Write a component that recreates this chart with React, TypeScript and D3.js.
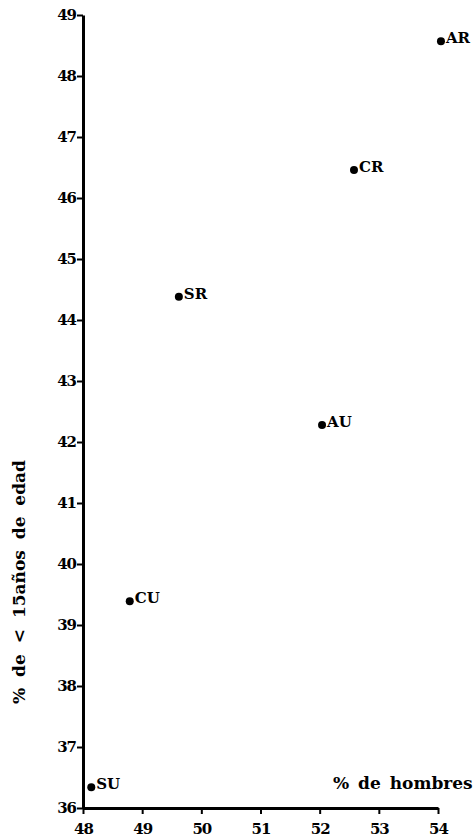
import React, { useEffect, useRef } from "react";
import * as d3 from "d3";

// % de hombres vs % de < 15 años de edad
const codes = ["AR", "CR", "SR", "AU", "CU", "SU"];
const hombres = [54.05, 52.58, 49.62, 52.04, 48.79, 48.14];
const menores = [48.57, 46.46, 44.38, 42.28, 39.39, 36.34];
const xTicks = [48, 49, 50, 51, 52, 53, 54];
const yTicks = [36, 37, 38, 39, 40, 41, 42, 43, 44, 45, 46, 47, 48, 49];

export default function App() {
  const ref = useRef<SVGSVGElement>(null);

  useEffect(() => {
    const svg = d3.select(ref.current);
    svg.selectAll("*").remove();

    const W = 473, H = 837;
    const x = d3.scaleLinear().domain([48, 54]).range([83, 438]);
    const y = d3.scaleLinear().domain([36, 49]).range([808, 15]);
    const font = "'DejaVu Serif', 'Liberation Serif', serif";

    svg.attr("width", W).attr("height", H);

    // y axis
    const gy = svg.append("g").attr("transform", `translate(${x(48)},0)`)
      .call(d3.axisLeft(y).tickValues(yTicks).tickSize(6).tickSizeOuter(0).tickFormat(d3.format("d")));
    gy.select(".domain").attr("stroke", "#000").attr("stroke-width", 3);
    gy.selectAll(".tick line").attr("stroke", "#000").attr("stroke-width", 2);
    gy.selectAll(".tick text")
      .attr("x", -7)
      .attr("font-family", font)
      .attr("font-weight", "bold")
      .attr("font-size", 15)
      .attr("letter-spacing", -1)
      .attr("fill", "#000");

    // x axis
    const gx = svg.append("g").attr("transform", `translate(0,${y(36)})`)
      .call(d3.axisBottom(x).tickValues(xTicks).tickSize(6).tickSizeOuter(0).tickFormat(d3.format("d")));
    gx.select(".domain").attr("stroke", "#000").attr("stroke-width", 3);
    gx.selectAll(".tick line").attr("stroke", "#000").attr("stroke-width", 2);
    gx.selectAll(".tick text")
      .attr("y", 26)
      .attr("dy", 0)
      .attr("font-family", font)
      .attr("font-weight", "bold")
      .attr("font-size", 15)
      .attr("letter-spacing", -1)
      .attr("fill", "#000");

    // points
    const pts = codes.map((c, i) => ({ c, hx: hombres[i], my: menores[i] }));
    const g = svg.append("g");
    g.selectAll("circle").data(pts).join("circle")
      .attr("cx", d => x(d.hx))
      .attr("cy", d => y(d.my))
      .attr("r", 4)
      .attr("fill", "#000");
    g.selectAll("text").data(pts).join("text")
      .attr("x", d => x(d.hx) + 5)
      .attr("y", d => y(d.my) + 2)
      .attr("font-family", font)
      .attr("font-weight", "bold")
      .attr("font-size", 15)
      .attr("fill", "#000")
      .text(d => d.c);

    // axis titles
    svg.append("text")
      .attr("x", 333)
      .attr("y", 789)
      .attr("font-family", font)
      .attr("font-weight", "bold")
      .attr("font-size", 17)
      .attr("word-spacing", 3)
      .attr("fill", "#000")
      .text("% de hombres");

    svg.append("text")
      .attr("transform", `translate(25,582) rotate(-90)`)
      .attr("text-anchor", "middle")
      .attr("font-family", font)
      .attr("font-weight", "bold")
      .attr("font-size", 17)
      .attr("word-spacing", 5)
      .attr("fill", "#000")
      .text("% de < 15años de edad");
  }, []);

  return (
    <svg ref={ref} style={{ position: "absolute", left: 0, top: 0, background: "#fff" }} />
  );
}
